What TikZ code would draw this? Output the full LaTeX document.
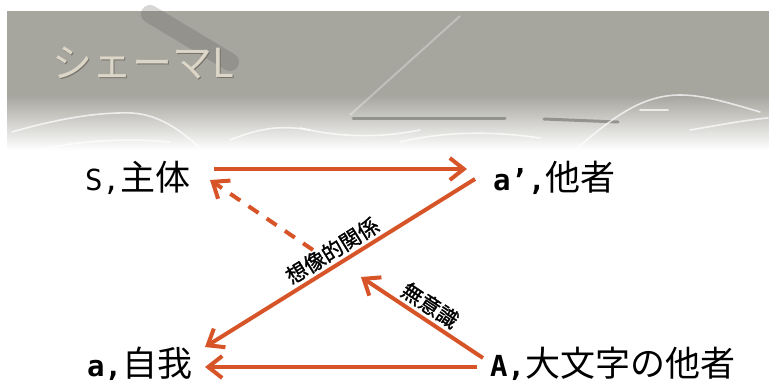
\documentclass[tikz,border=0pt]{standalone}
\usepackage{fontspec}
\usetikzlibrary{arrows.meta,calc}
\newfontfamily\jp{Noto Sans CJK JP}
\newfontfamily\jpb[FakeBold=1.2]{Noto Sans CJK JP}
\newfontfamily\lat{DejaVu Sans Mono}
\definecolor{arr}{HTML}{D65428}
\definecolor{bannergray}{HTML}{A6A59E}
\definecolor{titleface}{HTML}{DCD6C8}
\definecolor{titleshadow}{HTML}{77736B}
\begin{document}
\begin{tikzpicture}[x=1pt,y=-1pt,
  term/.style={inner sep=0pt, anchor=west, font=\jp\fontsize{35}{40}\selectfont},
  conn/.style={draw=arr, line width=4pt, -{Straight Barb[length=14pt,width=22pt]}},
  dashconn/.style={conn, dash pattern=on 12pt off 10pt},
  lab/.style={sloped, anchor=south, inner sep=3pt, font=\jpb\fontsize{21}{24}\selectfont},
  texture/.style={white, opacity=0.7, line width=1.6pt, line cap=round},
  darkstroke/.style={black!45!bannergray, line cap=round}]
\useasboundingbox (0,0) rectangle (769,381);
% banner
\fill[bannergray] (7,11) rectangle (769,96);
\shade[top color=bannergray, bottom color=white] (7,95.5) rectangle (769,150);
% texture
\draw[darkstroke, opacity=0.25, line width=18pt] (150,14) -- (230,62);
\draw[white, opacity=0.3, line width=2pt] (350,115) -- (460,16);
\draw[darkstroke, opacity=0.5, line width=3pt] (353,118) -- (505,118);
\draw[darkstroke, opacity=0.5, line width=3pt] (544,119) -- (618,122);
\draw[texture] (12,132) .. controls (60,118) and (100,112) .. (132,113) .. controls (160,115) and (180,130) .. (200,148);
\draw[texture] (40,150) .. controls (80,140) and (130,138) .. (170,142);
\draw[texture] (300,128) .. controls (330,135) and (370,140) .. (420,130);
\draw[texture] (400,142) .. controls (450,130) and (500,132) .. (540,138);
\draw[texture] (575,150) .. controls (610,120) and (640,95) .. (680,95) .. controls (700,95) and (720,100) .. (760,112);
\draw[texture] (640,110) -- (668,110);
\draw[texture] (690,130) .. controls (720,125) and (745,120) .. (768,118);
\draw[texture] (230,140) .. controls (260,128) and (280,125) .. (310,130);
% title
\node[font=\jp\fontsize{40}{44}\selectfont, text=titleshadow, inner sep=0pt] (titlesh) at (144.5,64.5) {シェーマL};
\node[font=\jp\fontsize{40}{44}\selectfont, text=titleface, inner sep=0pt] (title) at (143,63) {シェーマL};
% terms
\node[term] (S)  at (85,178)  {{\lat\fontsize{29}{32}\selectfont S,}主体};
\node[term] (ao) at (493,178) {{\lat\bfseries\fontsize{29}{32}\selectfont a’,}他者};
\node[term] (a)  at (87,364)  {{\lat\bfseries\fontsize{29}{32}\selectfont a,}自我};
\node[term] (A)  at (490,364) {{\lat\bfseries\fontsize{29}{32}\selectfont A,}大文字の他者};
\coordinate (u) at (361,277);
\coordinate (d) at (313,250);
% connectors
\draw[conn] ($(S.west)+(129,-9)$) -- ($(ao.west)+(-26,-9)$);
\draw[conn] ($(ao.west)+(-18,1)$) -- node[lab, pos=0.5] {想像的関係} ($(a.west)+(118,-17)$);
\draw[conn] ($(A.west)+(-13,3)$) -- ($(a.west)+(118,3)$);
\draw[conn] ($(A.west)+(-7,-6)$) -- node[lab, pos=0.5] {無意識} (u);
\draw[dashconn] (d) -- ($(S.west)+(125,2)$);
\end{tikzpicture}
\end{document}
